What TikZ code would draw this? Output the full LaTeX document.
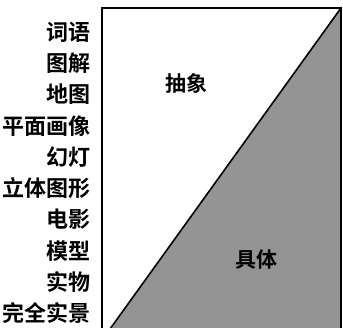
\documentclass[tikz,border=0pt]{standalone}
\usepackage{fontspec}
\newfontfamily\cjk{Noto Sans CJK SC Bold}
\begin{document}
\begin{tikzpicture}[x=1pt,y=-1pt,
  lbl/.style={font=\cjk\fontsize{22}{22}\selectfont, inner sep=0pt, anchor=east},
  zone/.style={font=\cjk\fontsize{21}{21}\selectfont, inner sep=0pt}]
\useasboundingbox (0,0) rectangle (343,327);
\coordinate (tl) at (102,8);
\coordinate (tr) at (341,8);
\coordinate (br) at (341,329);
\coordinate (bl) at (102,329);
\coordinate (db) at (110,329);
\fill[black!42] (db) -- (tr) -- (br) -- cycle;
\draw[line width=1.6pt] (db) -- (tr);
\draw[line width=1.8pt] (bl) -- (tl) -- (tr) -- (br);
\node[zone] (abs) at (186,83) {抽象};
\node[zone] (con) at (256,260) {具体};
\node[lbl] (l1) at (91,32) {词语};
\node[lbl] (l2) at (91,63) {图解};
\node[lbl] (l3) at (91,94) {地图};
\node[lbl] (l4) at (91,126) {平面画像};
\node[lbl] (l5) at (91,157) {幻灯};
\node[lbl] (l6) at (91,188) {立体图形};
\node[lbl] (l7) at (91,219) {电影};
\node[lbl] (l8) at (91,251) {模型};
\node[lbl] (l9) at (91,282) {实物};
\node[lbl] (l10) at (91,313) {完全实景};
\end{tikzpicture}
\end{document}
